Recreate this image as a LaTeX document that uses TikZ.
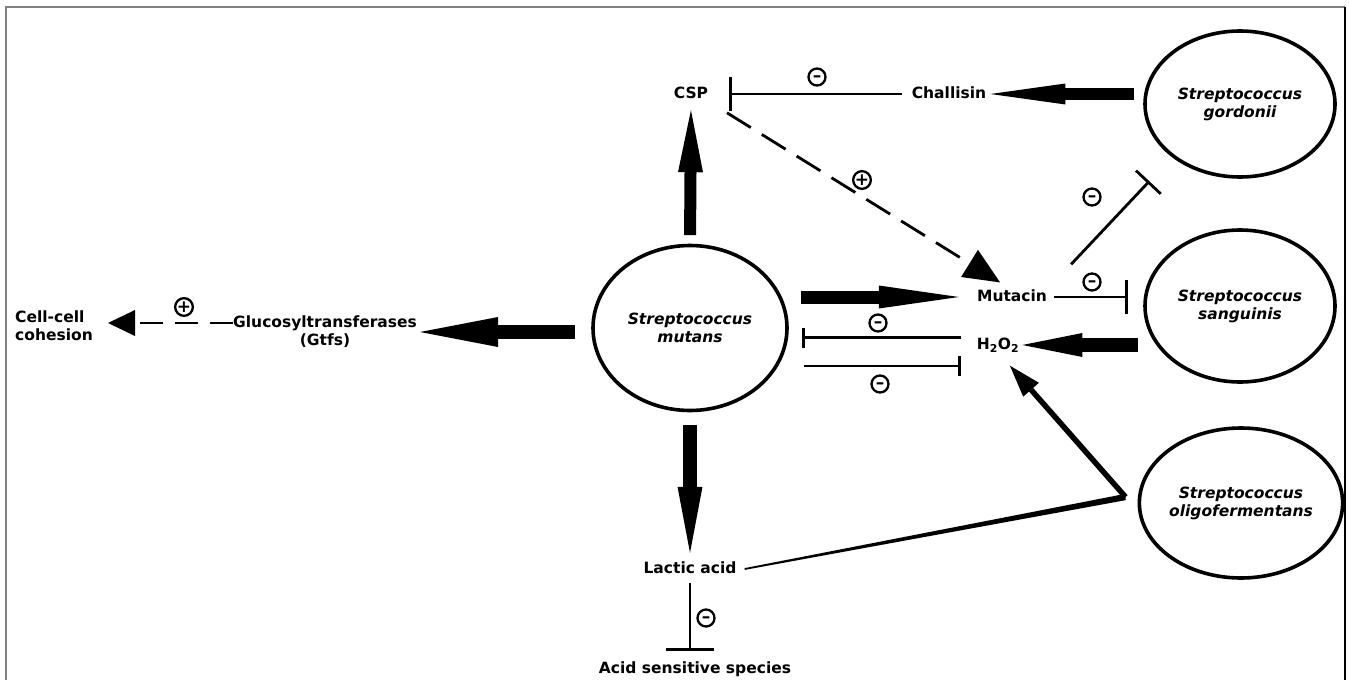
\documentclass[tikz,border=0pt]{standalone}
\usepackage{fontspec}
\setmainfont{DejaVu Sans}
\usetikzlibrary{arrows.meta,shapes.geometric,calc}
\begin{document}
\begin{tikzpicture}[x=1pt,y=-1pt,
  lbl/.style={font=\fontsize{15.5}{18}\selectfont\bfseries, inner sep=0pt, text height=11pt, text depth=3pt},
  lbl2/.style={font=\fontsize{15.5}{18}\selectfont\bfseries, inner sep=0pt},
  bug/.style={ellipse, draw, line width=3.6pt, inner sep=0pt, font=\fontsize{15.5}{18}\selectfont\bfseries\itshape, align=center},
  sign/.style={circle, draw, line width=2.3pt, minimum size=17pt, inner sep=0pt, font=\fontsize{17}{17}\selectfont\bfseries, text depth=0pt},
  minus/.style={sign, text height=9.4pt},
  plus/.style={sign, text height=10.6pt},
  blk/.style n args={3}{line width=#1, -{Triangle[length=#2,width=#3,line width=0pt]}},
  inhib/.style={line width=2.8pt, -{Bar[width=#1,line width=2.8pt]}},
  dsh/.style={line width=2.8pt, dash pattern=on #1 off 12pt}
]
\useasboundingbox (0,0) rectangle (1349,680);
% frame
\draw[gray, line width=2pt] (6,680) -- (6,7) -- (1345,7);
\draw[black, line width=1.5pt] (1345,7) -- (1345,680);

% organisms
\node[bug, minimum width=194pt, minimum height=165pt] (mutans) at (690,328) {Streptococcus\\mutans};
\node[bug, minimum width=190pt, minimum height=146pt] (gordonii) at (1240,104) {Streptococcus\\gordonii};
\node[bug, minimum width=190pt, minimum height=152pt] (sanguinis) at (1240,306) {Streptococcus\\sanguinis};
\node[bug, minimum width=194pt, minimum height=150pt] (oligo) at (1241,503) {Streptococcus\\oligofermentans};

% labels
\node[lbl] (CSP) at (691,94) {CSP};
\node[lbl] (chall) at (949,94) {Challisin};
\node[lbl] (mutacin) at (1012,297) {Mutacin};
\node[lbl] (h2o2) at (998,345) {H\textsubscript{2}O\textsubscript{2}};
\node[lbl2, align=center] (gtfs) at (325,332) {Glucosyltransferases\\(Gtfs)};
\node[lbl2, align=left, anchor=west] (coh) at (15,326) {Cell-cell\\cohesion};
\node[lbl] (lactic) at (690,569) {Lactic acid};
\node[lbl] (acid) at (695,669) {Acid sensitive species};

% block arrows
\draw[blk={12pt}{62pt}{25pt}, shorten <=8.5pt, shorten >=9pt] (mutans.north) -- (CSP.south);
\draw[blk={13pt}{80pt}{23pt}, shorten <=12pt, shorten >=18pt] (mutans.east |- mutacin.west) -- (mutacin.west);
\draw[blk={14pt}{78pt}{30pt}, shorten <=16pt, shorten >=3pt] (mutans.west |- gtfs.east) -- (gtfs.east);
\draw[blk={14pt}{66pt}{25pt}, shorten <=12.5pt, shorten >=9pt] (mutans.south) -- (lactic.north);
\draw[blk={12pt}{75pt}{21pt}, shorten <=9pt, shorten >=4pt] (gordonii.west |- chall.east) -- (chall.east);
\draw[blk={14pt}{60pt}{24pt}, shorten <=5pt, shorten >=3pt] (sanguinis.west |- h2o2.east) -- (h2o2.east);

% inhibitions
\draw[inhib=34pt, shorten <=10pt, shorten >=20.5pt] (chall.west) -- (CSP.east);
\draw[inhib=34pt, shorten <=7pt, shorten >=15pt] (mutacin.east) -- (sanguinis.west |- mutacin.east);
\draw[inhib=34pt, shorten <=35pt, shorten >=33pt] (mutacin.north east) -- (gordonii.218);
\draw[inhib=20pt, shorten <=16pt, shorten >=13pt] (h2o2.north west) -- (mutans.east |- h2o2.north west);
\coordinate (hlow) at ([yshift=-21pt]h2o2.west);
\draw[inhib=20pt, shorten <=15pt, shorten >=16pt] (mutans.east |- hlow) -- (hlow);
\draw[inhib=48pt, shorten <=7pt, shorten >=11pt] (lactic.south) -- (lactic.south |- acid.north);

% dashed activations
\draw[dsh=28pt, dash pattern=on 28pt off 13pt, -{Triangle[length=36pt,width=32pt,line width=0pt]}, shorten <=22pt, shorten >=14pt] (CSP.south east) -- (mutacin.north);
\coordinate (gl) at ([yshift=9pt]gtfs.west);
\draw[dsh=23pt, -{Triangle[length=27pt,width=26pt,line width=0pt]}, shorten >=15pt] (gl) -- (coh.east |- gl);

% lactic acid + S. oligofermentans -> H2O2
\coordinate (junc) at ([xshift=-12pt,yshift=6pt]oligo.west);
\fill ([xshift=8pt,yshift=0.9pt]lactic.east) -- ([yshift=3.2pt]junc) -- ([yshift=-3.2pt]junc) -- ([xshift=8pt,yshift=-0.9pt]lactic.east) -- cycle;
\draw[line width=5.5pt, -{Triangle[length=32pt,width=21pt,line width=0pt]}, shorten >=18pt] (junc) -- (h2o2.south);

% signs
\node[minus] (s1) at (817,77) {–};
\node[plus] (s2) at (862,180) {+};
\node[minus] (s3) at (1092,197) {–};
\node[minus] (s4) at (1092,282) {–};
\node[minus] (s5) at (878,323) {–};
\node[minus] (s6) at (880,384) {–};
\node[minus] (s7) at (706,618) {–};
\node[plus] (s8) at (184,307) {+};
\end{tikzpicture}
\end{document}
